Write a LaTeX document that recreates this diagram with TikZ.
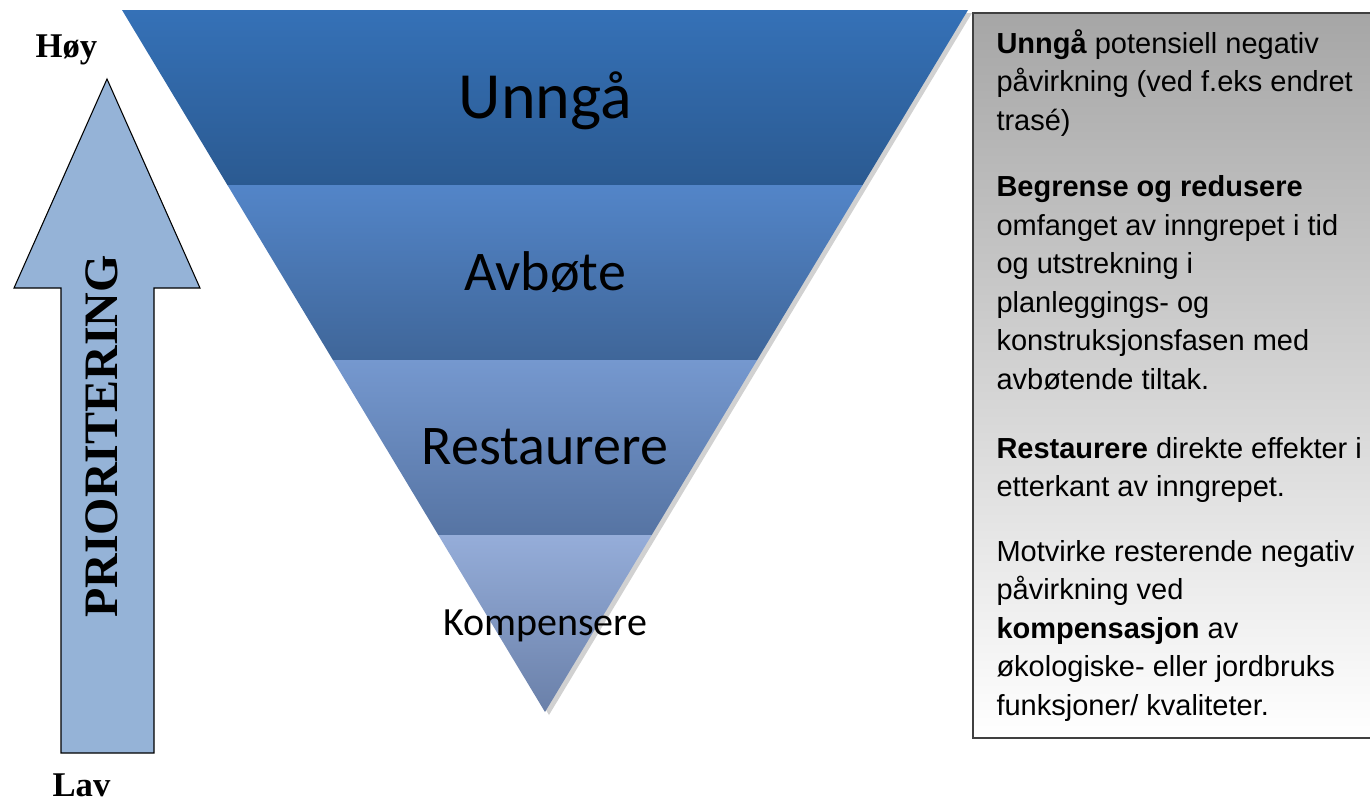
\documentclass[tikz,border=0pt]{standalone}
\usepackage{fontspec}
\setmainfont{Liberation Serif}
\newfontfamily\calfont{Carlito}
\newfontfamily\arialfont{Liberation Sans}

\definecolor{bandAtop}{RGB}{53,113,183}
\definecolor{bandAbot}{RGB}{43,90,145}
\definecolor{bandBtop}{RGB}{83,133,200}
\definecolor{bandBbot}{RGB}{63,102,153}
\definecolor{bandCtop}{RGB}{117,152,207}
\definecolor{bandCbot}{RGB}{86,116,163}
\definecolor{bandDtop}{RGB}{149,173,217}
\definecolor{bandDbot}{RGB}{106,128,169}
\definecolor{arrowfill}{RGB}{149,179,215}
\definecolor{boxtop}{RGB}{166,166,166}
\definecolor{boxline}{RGB}{64,64,64}

\tikzset{every picture/.style={line width=0.75pt}}

\begin{document}
\begin{tikzpicture}[x=0.75pt,y=0.75pt,yscale=-1,xscale=1,
  level/.style={text=black, inner sep=0.75pt, anchor=base},
  side/.style={inner sep=0.75pt, anchor=base},
  boxtext/.style={font=\arialfont\fontsize{21.75}{28.9}\selectfont, align=left, anchor=north west, inner sep=0pt}]
%set diagram left start at 0, and has height of 801
\useasboundingbox (0,0) rectangle (1370,801);

%Shape: Triangle shadow
\fill [black, opacity=0.18, shift={(4,3)}] (122,10) -- (968,10) -- (545,712) -- cycle ;
%Shape: Bands
\shade [top color=bandAtop, bottom color=bandAbot] (122,10) -- (968,10) -- (862.6,185) -- (227.4,185) -- cycle ;
\shade [top color=bandBtop, bottom color=bandBbot] (227.4,185) -- (862.6,185) -- (757.1,360) -- (332.9,360) -- cycle ;
\shade [top color=bandCtop, bottom color=bandCbot] (332.9,360) -- (757.1,360) -- (651.7,535) -- (438.3,535) -- cycle ;
\shade [top color=bandDtop, bottom color=bandDbot] (438.3,535) -- (651.7,535) -- (545,712) -- cycle ;

%Shape: Up Arrow
\draw [fill=arrowfill, line width=0.8pt, line join=miter] (107,79) -- (200,288) -- (154,288) -- (154,753) -- (61,753) -- (61,288) -- (14,288) -- cycle ;

%Shape: Text box
\shade [top color=boxtop, bottom color=white, draw=boxline, line width=1.1pt] (973,13) rectangle (1376,738) ;

% Text Node
\node [level] (unnga) at (545.5,118) {\calfont\fontsize{49.5}{59}\selectfont Unngå};
% Text Node
\node [level] (avbote) at (545,290) {\calfont\fontsize{42}{50}\selectfont Avbøte};
% Text Node
\node [level] (restaurere) at (545,464) {\calfont\fontsize{42}{50}\selectfont Restaurere};
% Text Node
\node [level] (kompensere) at (545,635) {\calfont\fontsize{30}{36}\selectfont Kompensere};

% Text Node
\node [side] (hoy) at (66.5,57) {\fontsize{26}{31}\selectfont\bfseries Høy};
% Text Node
\node [side] (lav) at (81.5,796) {\fontsize{26}{31}\selectfont\bfseries Lav};
% Text Node
\node [side, rotate=90] (prio) at (117,436.5) {\fontsize{36}{43}\selectfont\bfseries PRIORITERING};

% Text Node
\node [boxtext] (unngatxt) at (996,29) {\textbf{Unngå} potensiell negativ\\påvirkning (ved f.eks endret\\trasé)};
% Text Node
\node [boxtext] (begrensetxt) at (996,175) {\textbf{Begrense og redusere}\\omfanget av inngrepet i tid\\og utstrekning i\\planleggings- og\\konstruksjonsfasen med\\avbøtende tiltak.};
% Text Node
\node [boxtext] (restaureretxt) at (996,436.5) {\textbf{Restaurere} direkte effekter i\\etterkant av inngrepet.};
% Text Node
\node [boxtext] (motvirketxt) at (996,539.5) {Motvirke resterende negativ\\påvirkning ved\\\textbf{kompensasjon} av\\økologiske- eller jordbruks\\funksjoner/ kvaliteter.};

\end{tikzpicture}
\end{document}
